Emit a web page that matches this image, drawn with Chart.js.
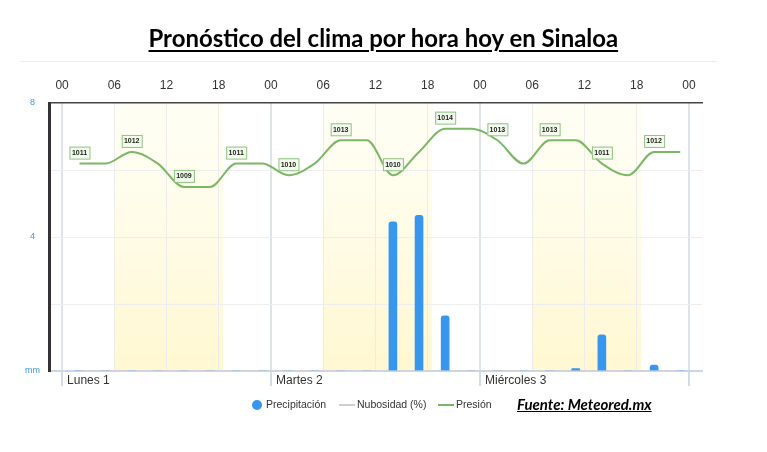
<!DOCTYPE html>
<html>
<head>
<meta charset="utf-8">
<script src="https://cdn.jsdelivr.net/npm/chart.js@4.4.1/dist/chart.umd.min.js"></script>
<style>
  body { margin: 0; background: #fff; width: 767px; height: 452px; overflow: hidden; position: relative; }
  #grafico { position: absolute; left: 0; top: 0; }
  #titulo { position: absolute; left: 0; top: 22px; width: 767px; text-align: center; }
  #titulo span { display: inline-block; font: bold 25px Lato, sans-serif; color: #000; text-decoration: underline; text-decoration-thickness: 2px; text-underline-offset: 3px; transform-origin: center; }
  #linea { position: absolute; left: 20px; top: 61px; width: 697px; border-top: 1px solid #ededed; }
  #fuente { position: absolute; left: 517px; top: 395px; font: italic bold 15px Lato, sans-serif; color: #000; text-decoration: underline; }
</style>
</head>
<body>
<canvas id="grafico" width="767" height="452"></canvas>
<div id="titulo"><span>Pronóstico del clima por hora hoy en Sinaloa</span></div>
<div id="linea"></div>
<div id="fuente">Fuente: Meteored.mx</div>
<script>
// Datos (horas contadas desde Lunes 1 00:00)
const horas = [2, 5, 8, 11, 14, 17, 20, 23, 26, 29, 32, 35, 38, 41, 44, 47, 50, 53, 56, 59, 62, 65, 68, 71];
const presion = [1011, 1011, 1012, 1011, 1009, 1009, 1011, 1011, 1010, 1011, 1013, 1013, 1010, 1012, 1014, 1014, 1013, 1011, 1013, 1013, 1011, 1010, 1012, 1012];
const precipitacion = [0, 0, 0, 0, 0, 0, 0, 0, 0, 0, 0, 0, 4.45, 4.65, 1.65, 0, 0, 0, 0, 0.07, 1.08, 0, 0.18, 0];
const nubosidad = [0, 0, 0, 0, 0, 0, 0, 0, 0, 0, 0, 0, 0, 0, 0, 0, 0, 0, 0, 0, 0, 0, 0, 0];
const marcasHora = [0, 6, 12, 18, 24, 30, 36, 42, 48, 54, 60, 66, 72];
const dias = { 0: 'Lunes 1', 24: 'Martes 2', 48: 'Miércoles 3' };
const marcasMm = [0, 2, 4, 6, 8];
// horas de sol (amanecer, atardecer)
const franjasDia = [[6, 18.5], [30, 42.5], [54, 66.5]];

// ajustar ancho del titulo
const spanTitulo = document.querySelector('#titulo span');
spanTitulo.style.transform = 'scaleX(' + (470 / spanTitulo.offsetWidth) + ')';

const dosDigitos = v => { const h = v % 24; return (h < 10 ? '0' : '') + h; };

// fondo amarillo de las horas de dia
const pluginFranjas = {
  id: 'franjas',
  beforeDraw(chart) {
    const { ctx, chartArea, scales } = chart;
    const grad = ctx.createLinearGradient(0, chartArea.top, 0, chartArea.bottom);
    grad.addColorStop(0, 'rgba(255, 252, 225, 0.35)');
    grad.addColorStop(1, 'rgba(255, 246, 200, 0.85)');
    ctx.save();
    ctx.fillStyle = grad;
    franjasDia.forEach(([ini, fin]) => {
      const x1 = scales.x.getPixelForValue(ini);
      const x2 = scales.x.getPixelForValue(fin);
      ctx.fillRect(x1, chartArea.top, x2 - x1, chartArea.bottom - chartArea.top);
    });
    ctx.restore();
  }
};

// etiquetas de presion cada 6 horas
const pluginEtiquetas = {
  id: 'etiquetasPresion',
  afterDatasetsDraw(chart) {
    const { ctx } = chart;
    const meta = chart.getDatasetMeta(2);
    ctx.save();
    ctx.font = 'bold 7px "Liberation Sans", Arial, sans-serif';
    ctx.textAlign = 'center';
    ctx.textBaseline = 'middle';
    meta.data.forEach((pt, i) => {
      if (i % 2 !== 0) return;
      const cx = pt.x, cy = pt.y - 11;
      ctx.fillStyle = '#f4faf0';
      ctx.fillRect(cx - 10, cy - 6, 20, 12);
      ctx.strokeStyle = '#8ec47e';
      ctx.lineWidth = 1;
      ctx.strokeRect(cx - 10 + 0.5, cy - 6 + 0.5, 20, 12);
      ctx.fillStyle = '#18220f';
      ctx.fillText(String(presion[i]), cx, cy + 0.5);
    });
    ctx.restore();
  }
};

// leyenda
const pluginLeyenda = {
  id: 'leyenda',
  afterDraw(chart) {
    const { ctx } = chart;
    const ds = chart.data.datasets;
    const y = 405;
    ctx.save();
    ctx.font = '10.5px "Liberation Sans", Arial, sans-serif';
    ctx.textBaseline = 'middle';
    // Precipitacion
    ctx.beginPath();
    ctx.arc(257, y, 5, 0, Math.PI * 2);
    ctx.fillStyle = ds[0].backgroundColor;
    ctx.fill();
    ctx.fillStyle = '#333';
    ctx.fillText(ds[0].label, 266, y);
    // Nubosidad
    ctx.strokeStyle = ds[1].borderColor;
    ctx.lineWidth = 2;
    ctx.beginPath(); ctx.moveTo(339, y); ctx.lineTo(355, y); ctx.stroke();
    ctx.fillText(ds[1].label, 357, y);
    // Presion
    ctx.strokeStyle = ds[2].borderColor;
    ctx.beginPath(); ctx.moveTo(438, y); ctx.lineTo(454, y); ctx.stroke();
    ctx.fillText(ds[2].label, 456, y);
    ctx.restore();
  }
};

new Chart(document.getElementById('grafico'), {
  data: {
    datasets: [
      {
        type: 'bar',
        label: 'Precipitación',
        data: horas.map((h, i) => ({ x: h, y: precipitacion[i] })),
        backgroundColor: '#3796ee',
        barThickness: 8,
        borderRadius: { topLeft: 3, topRight: 3 },
        borderSkipped: 'bottom',
        xAxisID: 'x',
        yAxisID: 'y',
        order: 2
      },
      {
        type: 'line',
        label: 'Nubosidad (%)',
        data: horas.map((h, i) => ({ x: h, y: nubosidad[i] })),
        borderColor: '#cfcfcf',
        borderWidth: 1,
        pointRadius: 0,
        xAxisID: 'x',
        yAxisID: 'yN',
        order: 1
      },
      {
        type: 'line',
        label: 'Presión',
        data: horas.map((h, i) => ({ x: h, y: presion[i] })),
        borderColor: '#7bb866',
        borderWidth: 2,
        pointRadius: 0,
        cubicInterpolationMode: 'monotone',
        xAxisID: 'x',
        yAxisID: 'yP',
        order: 0
      }
    ]
  },
  options: {
    responsive: false,
    animation: false,
    layout: { padding: { top: 60, right: 65, bottom: 51, left: 0 } },
    plugins: {
      legend: { display: false },
      tooltip: { enabled: false }
    },
    scales: {
      x: {
        type: 'linear',
        position: 'bottom',
        min: -1.5,
        max: 73.5,
        offset: false,
        afterBuildTicks: s => { s.ticks = marcasHora.map(v => ({ value: v })); },
        afterFit: s => { s.height = 30; },
        grid: {
          offset: false,
          color: c => (c.tick && c.tick.value % 24 === 0) ? '#dfe3ea' : '#ececec',
          lineWidth: c => (c.tick && c.tick.value % 24 === 0) ? 2 : 1,
          tickColor: c => (c.tick && c.tick.value % 24 === 0) ? '#d3dae8' : 'rgba(0,0,0,0)',
          tickLength: 15,
          drawTicks: true
        },
        border: { color: '#ccd6eb', width: 2 },
        ticks: {
          callback: v => dias[v] || '',
          align: 'start',
          labelOffset: 5,
          padding: -13,
          autoSkip: false,
          maxRotation: 0,
          color: '#333',
          font: { family: '"Liberation Sans", Arial, sans-serif', size: 12 }
        }
      },
      xTop: {
        type: 'linear',
        position: 'top',
        min: -1.5,
        max: 73.5,
        offset: false,
        afterBuildTicks: s => { s.ticks = marcasHora.map(v => ({ value: v })); },
        afterFit: s => { s.height = 43; },
        grid: { display: false, drawTicks: false },
        border: { color: '#444', width: 1.5 },
        ticks: {
          callback: v => dosDigitos(v),
          padding: 10,
          autoSkip: false,
          maxRotation: 0,
          color: '#333',
          font: { family: '"Liberation Sans", Arial, sans-serif', size: 12 }
        }
      },
      y: {
        position: 'left',
        min: 0,
        max: 8,
        afterBuildTicks: s => { s.ticks = marcasMm.map(v => ({ value: v })); },
        afterFit: s => { s.width = 49; },
        grid: {
          color: c => (c.tick && c.tick.value === 8) ? 'rgba(0,0,0,0)' : '#eeeeee',
          drawTicks: false
        },
        border: { color: '#333', width: 3 },
        ticks: {
          callback: v => v === 0 ? 'mm' : (v % 4 === 0 ? String(v) : ''),
          crossAlign: 'center',
          padding: 9,
          color: '#3b9ae1',
          font: { family: '"Liberation Sans", Arial, sans-serif', size: 9 }
        }
      },
      yP: { display: false, position: 'right', min: 993.2, max: 1016.2 },
      yN: { display: false, position: 'right', min: 0, max: 100 }
    }
  },
  plugins: [pluginFranjas, pluginEtiquetas, pluginLeyenda]
});
</script>
</body>
</html>
